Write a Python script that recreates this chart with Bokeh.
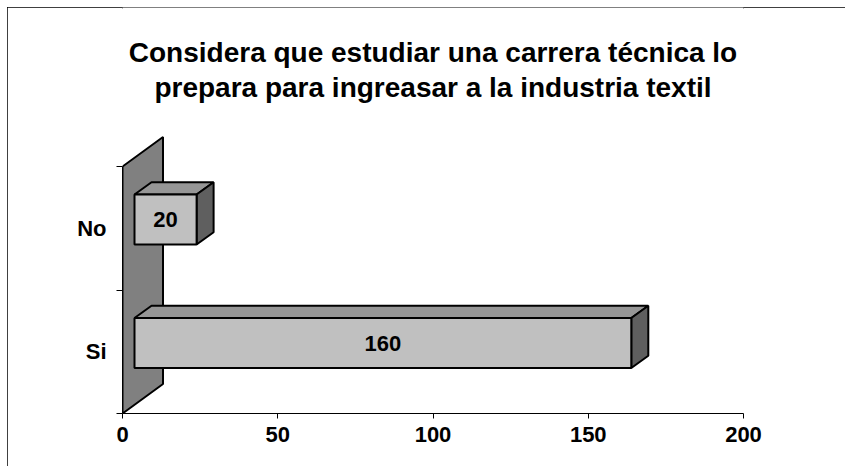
from bokeh.plotting import figure
from bokeh.models import Range1d, FixedTicker
from bokeh.core.properties import value
from bokeh.embed import file_html
from bokeh.resources import INLINE

# ---- data ----
title_lines = ["Considera que estudiar una carrera técnica lo",
               "prepara para ingreasar a la industria textil"]
categories = ["Si", "No"]
counts = [160, 20]
x_ticks = [0, 50, 100, 150, 200]

# ---- geometry / style ----
OFF = 7                               # figure offset on the page
W, H = 845 - OFF, 466 - OFF
FRAME_L, FRAME_R, FRAME_B = 122, 743, 413   # page pixel positions
LEFT, RIGHT, BOTTOM = FRAME_L - OFF, W - (FRAME_R - OFF), H - (FRAME_B - OFF)
X_MAX = 200
PX = (FRAME_R - FRAME_L) / X_MAX     # pixels per value unit
PY = 123.5                           # pixels per category
Y_MAX = (FRAME_B - OFF) / PY

# depth vectors (3D look), in data units
DXW, DYW = 40.5 / PX, 29.5 / PY      # wall depth
DX0, DY0 = 12.0 / PX, 8.7 / PY       # bar front plane offset
DXB, DYB = 17.0 / PX, 12.3 / PY      # bar depth
BH = 50.0 / PY                       # bar thickness

FONT = "Liberation Sans"
EDGE = "black"
LW = 2

p = figure(width=W, height=H, x_range=Range1d(0, X_MAX), y_range=Range1d(0, Y_MAX),
           output_backend="svg", toolbar_location=None,
           min_border_left=LEFT, min_border_right=RIGHT,
           min_border_bottom=BOTTOM, min_border_top=0)
p.outline_line_color = None
p.xgrid.grid_line_color = None
p.ygrid.grid_line_color = None
p.background_fill_color = "white"
p.border_fill_color = "white"
p.styles = {"margin-left": f"{OFF}px", "margin-top": f"{OFF}px",
            "outline": "2px solid black", "outline-offset": "-2px"}

n = len(categories)

# back wall
p.patch(x=[0, DXW, DXW, 0], y=[0, DYW, n + DYW, n],
        fill_color="#808080", line_color=EDGE, line_width=LW)

# bars
lefts, rights, bottoms, tops = [], [], [], []
top_xs, top_ys, side_xs, side_ys = [], [], [], []
lab_x, lab_y, lab_t = [], [], []
for i, v in enumerate(counts):
    yc = i + 0.5 + DY0
    l, r = DX0, DX0 + v
    b, t = yc - BH / 2, yc + BH / 2
    lefts.append(l); rights.append(r); bottoms.append(b); tops.append(t)
    top_xs.append([l, r, r + DXB, l + DXB])
    top_ys.append([t, t, t + DYB, t + DYB])
    side_xs.append([r, r + DXB, r + DXB, r])
    side_ys.append([b, b + DYB, t + DYB, t])
    lab_x.append(l + v / 2); lab_y.append(yc); lab_t.append(str(v))

p.patches(xs=top_xs, ys=top_ys, fill_color="#969696", line_color=EDGE, line_width=LW)
p.patches(xs=side_xs, ys=side_ys, fill_color="#5f5f5f", line_color=EDGE, line_width=LW)
p.quad(left=lefts, right=rights, bottom=bottoms, top=tops,
       fill_color="#c0c0c0", line_color=EDGE, line_width=LW)

p.text(x=lab_x, y=lab_y, text=lab_t, text_font=value(FONT), text_font_style="bold",
       text_font_size="22px", text_align="center", text_baseline="middle", text_color="black")

# title (two lines, baselines at page y = 52 and 87)
p.text(x=[X_MAX / 2, X_MAX / 2], y=[(FRAME_B - 52) / PY, (FRAME_B - 87) / PY],
       text=title_lines, text_font=value(FONT), text_font_style="bold",
       text_font_size="28px", text_align="center", text_baseline="alphabetic",
       text_color="black")

# x axis
xa = p.xaxis[0]
xa.ticker = FixedTicker(ticks=x_ticks)
xa.axis_line_color = "black"
xa.major_tick_line_color = "black"
xa.major_tick_out = 5
xa.major_tick_in = 0
xa.minor_tick_line_color = None
xa.major_label_standoff = 8
xa.major_label_text_font = FONT
xa.major_label_text_font_style = "bold"
xa.major_label_text_font_size = "22px"
xa.major_label_text_color = "black"

# y axis
ya = p.yaxis[0]
ya.ticker = FixedTicker(ticks=[i + 0.5 for i in range(n)], minor_ticks=list(range(n + 1)))
ya.major_label_overrides = {i + 0.5: c for i, c in enumerate(categories)}
ya.bounds = (0, n)
ya.axis_line_color = "black"
ya.major_tick_line_color = None
ya.major_tick_out = 0
ya.major_tick_in = 0
ya.minor_tick_line_color = "black"
ya.minor_tick_out = 6
ya.minor_tick_in = 0
ya.major_label_standoff = 10
ya.major_label_text_font = FONT
ya.major_label_text_font_style = "bold"
ya.major_label_text_font_size = "22px"
ya.major_label_text_color = "black"

open("out.html", "w").write(file_html(p, INLINE))
